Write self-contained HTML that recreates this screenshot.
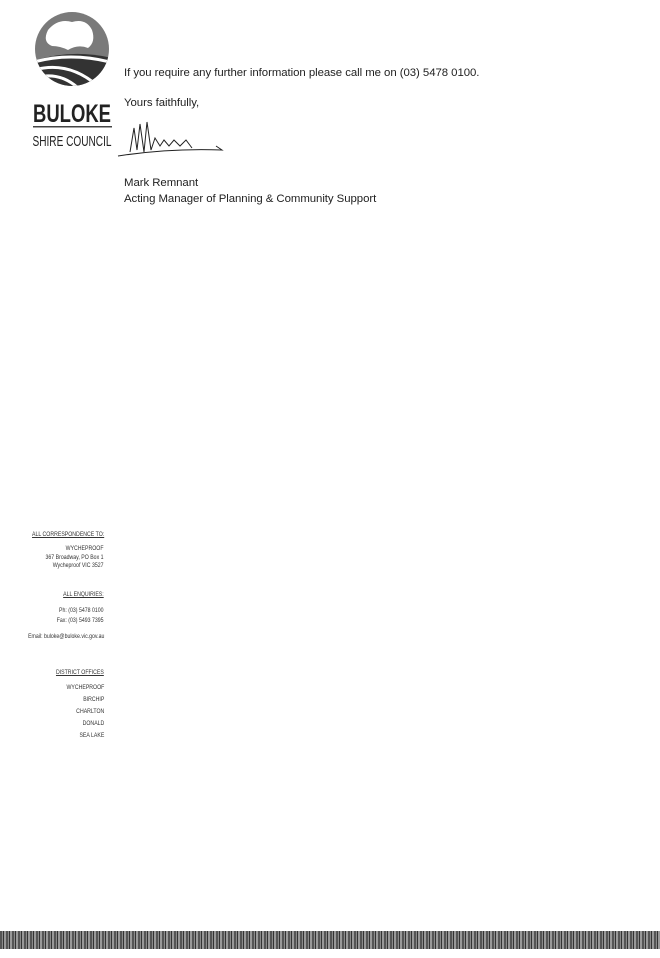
<!DOCTYPE html>
<html><head><style>
html,body{margin:0;padding:0;background:#fff;}
body{width:660px;height:958px;position:relative;overflow:hidden;font-family:"Liberation Sans",sans-serif;color:#222;}
.t{position:absolute;left:124px;font-size:11.4px;white-space:nowrap;letter-spacing:-0.05px;}
.f{position:absolute;right:556px;font-size:6.5px;white-space:nowrap;text-align:right;line-height:8.5px;color:#333;transform:scaleX(0.8);transform-origin:right;}
.u{text-decoration:underline;}
</style></head><body>
<svg style="position:absolute;left:0;top:0" width="260" height="170">
<defs><clipPath id="c"><circle cx="72" cy="49" r="37"/></clipPath></defs>
<g clip-path="url(#c)">
<rect x="30" y="10" width="90" height="90" fill="#7a7a7a"/>
<path d="M48 30 Q58 18 72 22 Q86 18 92 30 Q96 42 88 48 Q78 44 68 50 Q60 46 52 46 Q42 42 48 30Z" fill="#fff"/>
<path d="M30 62 Q70 48 112 58 L112 100 L30 100Z" fill="#333"/>
<path d="M34 62 Q70 52 110 62" stroke="#fff" stroke-width="3" fill="none"/>
<path d="M34 70 Q70 60 100 88" stroke="#fff" stroke-width="3" fill="none"/>
<path d="M34 78 Q62 70 82 92" stroke="#fff" stroke-width="3" fill="none"/>
</g>
<text x="72" y="122" text-anchor="middle" font-family="Liberation Sans" font-weight="bold" font-size="25" fill="#222" textLength="78" lengthAdjust="spacingAndGlyphs">BULOKE</text>
<rect x="33" y="126" width="79" height="1.5" fill="#444"/>
<text x="72" y="146" text-anchor="middle" font-family="Liberation Sans" font-size="15" fill="#222" textLength="79" lengthAdjust="spacingAndGlyphs">SHIRE COUNCIL</text>
<path d="M130 152 L134 128 L137 150 L140 124 L144 152 L147 122 L151 150 L155 138 L160 146 L164 140 L169 146 L174 140 L180 146 L186 140 L192 148 M118 156 Q170 148 222 150 L216 146" stroke="#222" stroke-width="1" fill="none"/>
</svg>
<div class="t" style="top:67px">If you require any further information please call me on (03) 5478 0100.</div>
<div class="t" style="top:97px">Yours faithfully,</div>
<div class="t" style="top:177px">Mark Remnant</div>
<div class="t" style="top:193px">Acting Manager of Planning &amp; Community Support</div>
<div class="f" style="top:531px"><span class="u">ALL CORRESPONDENCE TO:</span></div>
<div class="f" style="top:545px">WYCHEPROOF<br>367 Broadway, PO Box 1<br>Wycheproof VIC 3527</div>
<div class="f" style="top:591px"><span class="u">ALL ENQUIRIES:</span></div>
<div class="f" style="top:606px;line-height:10px">Ph: (03) 5478 0100<br>Fax: (03) 5493 7395</div>
<div class="f" style="top:633px">Email: buloke@buloke.vic.gov.au</div>
<div class="f" style="top:669px"><span class="u">DISTRICT OFFICES</span></div>
<div class="f" style="top:682px;line-height:12px">WYCHEPROOF<br>BIRCHIP<br>CHARLTON<br>DONALD<br>SEA LAKE</div>
<div style="position:absolute;left:0;top:931px;width:660px;height:18px;background:repeating-linear-gradient(90deg,#555 0 2px,#8a8a8a 2px 3px,#333 3px 4px,#999 4px 6px);"></div>
</body></html>
